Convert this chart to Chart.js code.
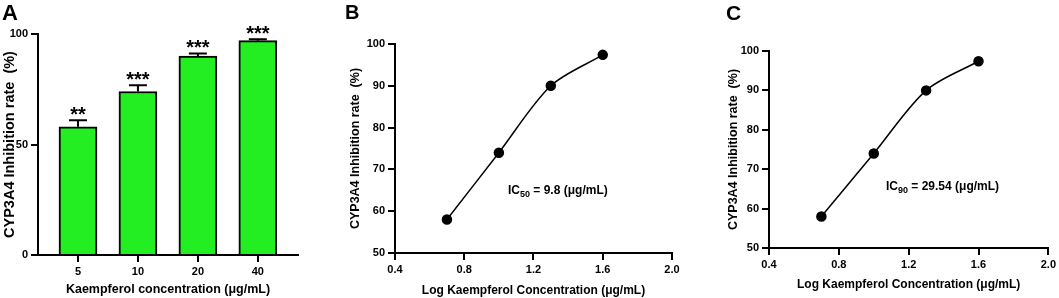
<!DOCTYPE html>
<html>
<head>
<meta charset="utf-8">
<script src="https://cdn.jsdelivr.net/npm/chart.js@4/dist/chart.umd.min.js"></script>
<style>
    body { margin: 0; background: #fff; width: 1059px; height: 298px; overflow: hidden; position: relative; }
    .panel { position: absolute; top: 0; height: 298px; }
    .letter, .note { position: absolute; font-family: "Liberation Sans", Arial, sans-serif; font-weight: bold; color: #000; }
    .letter { font-size: 22px; line-height: 22px; }
    .note { font-size: 12px; line-height: 14px; white-space: nowrap; }
    .note sub { font-size: 9px; vertical-align: -3px; line-height: 0; }
</style>
</head>
<body>
<div class="panel" style="left:0;width:330px"><canvas id="chartA"></canvas></div>
<div class="panel" style="left:330px;width:360px"><canvas id="chartB"></canvas></div>
<div class="panel" style="left:690px;width:369px"><canvas id="chartC"></canvas></div>
<div class="letter" style="left:2px;top:2px">A</div>
<div class="letter" style="left:345px;top:1px;font-size:20px">B</div>
<div class="letter" style="left:726px;top:2px;font-size:21px">C</div>
<div class="note" style="left:508px;top:183px">IC<sub>50</sub> = 9.8 (μg/mL)</div>
<div class="note" style="left:886px;top:179px">IC<sub>90</sub> = 29.54 (μg/mL)</div>
<script>
"use strict";

// data
const categories = ["5", "10", "20", "40"];
const inhibition = [58, 74, 90, 97];
const errorUp = [3, 2.8, 1.2, 0.6];
const stars = ["**", "***", "***", "***"];
const logConc = [0.7, 1.0, 1.3, 1.6];
const curveRate = [58, 74, 90, 97.4];
const yTitle = "CYP3A4 Inhibition rate  (%)";

Chart.defaults.font.family = '"Liberation Sans", Arial, sans-serif';
Chart.defaults.font.weight = "bold";
Chart.defaults.font.size = 11;
Chart.defaults.color = "#000";
Chart.defaults.animation = false;
Chart.defaults.plugins.legend.display = false;
Chart.defaults.plugins.tooltip.enabled = false;

function axisGrid() {
    return { drawOnChartArea: false, drawTicks: true, tickLength: 7, color: "#000", lineWidth: 2, offset: false };
}
function axisBorder() {
    return { display: true, color: "#000", width: 2 };
}

//ERROR BARS + STARS
const errorPlugin = {
    id: "errorBars",
    afterDatasetsDraw(chart) {
        let ctx = chart.ctx;
        let x = chart.scales.x, y = chart.scales.y;
        ctx.save();
        ctx.strokeStyle = "#000";
        ctx.lineWidth = 2;
        ctx.fillStyle = "#000";
        ctx.textAlign = "center";
        ctx.textBaseline = "alphabetic";
        ctx.font = 'bold 20px "Liberation Sans", Arial, sans-serif';
        for (let i = 0; i < inhibition.length; i++) {
            let px = x.getPixelForValue(i);
            let top = y.getPixelForValue(inhibition[i]);
            let cap = y.getPixelForValue(inhibition[i] + errorUp[i]);
            ctx.beginPath();
            ctx.moveTo(px, top);
            ctx.lineTo(px, cap);
            ctx.moveTo(px - 9, cap);
            ctx.lineTo(px + 9, cap);
            ctx.stroke();
            ctx.fillText(stars[i], px, cap + 1);
        }
        ctx.restore();
    }
};

//GRAFICO A
new Chart(document.getElementById("chartA"), {
    type: "bar",
    data: {
        datasets: [{
            data: categories.map(function (c, i) { return { x: i, y: inhibition[i] }; }),
            backgroundColor: "#22EE22",
            borderColor: "#000",
            borderWidth: 2,
            borderSkipped: "bottom",
            barThickness: 38
        }]
    },
    options: {
        responsive: true,
        maintainAspectRatio: false,
        layout: { padding: { top: 34, right: 32, left: 0, bottom: 0 } },
        scales: {
            x: {
                type: "linear",
                offset: false,
                min: -0.667,
                max: 3.67,
                afterBuildTicks: function (s) { s.ticks = categories.map(function (c, i) { return { value: i }; }); },
                afterFit: function (s) { s.height = 43; },
                ticks: { callback: function (v) { return categories[v]; }, padding: 3, font: { size: 11 } },
                grid: axisGrid(),
                border: axisBorder(),
                title: { display: true, text: "Kaempferol concentration (μg/mL)", font: { size: 12.5 }, padding: { top: 0, bottom: 1 } }
            },
            y: {
                min: 0,
                max: 100,
                ticks: { stepSize: 50, padding: 3, font: { size: 11 } },
                afterFit: function (s) { s.width = 38; },
                grid: axisGrid(),
                border: axisBorder(),
                title: { display: true, text: yTitle, font: { size: 14.5 }, padding: { top: 1, bottom: 0 } }
            }
        }
    },
    plugins: [errorPlugin]
});

//GRAFICI B e C
function curveChart(id, pad, yWidth, xHeight, yTitlePad, xTitlePad) {
    return new Chart(document.getElementById(id), {
        type: "scatter",
        data: {
            datasets: [{
                data: logConc.map(function (v, i) { return { x: v, y: curveRate[i] }; }),
                showLine: true,
                tension: 0.3,
                borderColor: "#000",
                borderWidth: 1.5,
                pointRadius: 4.5,
                pointBackgroundColor: "#000",
                pointBorderColor: "#000"
            }]
        },
        options: {
            responsive: true,
            maintainAspectRatio: false,
            layout: { padding: pad },
            scales: {
                x: {
                    type: "linear",
                    min: 0.4,
                    max: 2.0,
                    ticks: { stepSize: 0.4, padding: 3, callback: function (v) { return v.toFixed(1); } },
                    afterFit: function (s) { s.height = xHeight; },
                    grid: axisGrid(),
                    border: axisBorder(),
                    title: { display: true, text: "Log Kaempferol Concentration (μg/mL)", font: { size: 12 }, padding: { top: 0, bottom: xTitlePad } }
                },
                y: {
                    min: 50,
                    max: 100,
                    ticks: { stepSize: 10, padding: 3 },
                    afterFit: function (s) { s.width = yWidth; },
                    grid: axisGrid(),
                    border: axisBorder(),
                    title: { display: true, text: yTitle, font: { size: 12.5 }, padding: { top: yTitlePad, bottom: 0 } }
                }
            }
        }
    });
}

curveChart("chartB", { top: 44, right: 18, left: 0, bottom: 0 }, 65, 45, 18, 0);
curveChart("chartC", { top: 51, right: 9, left: 0, bottom: 0 }, 79, 50, 36, 6);
</script>
</body>
</html>
